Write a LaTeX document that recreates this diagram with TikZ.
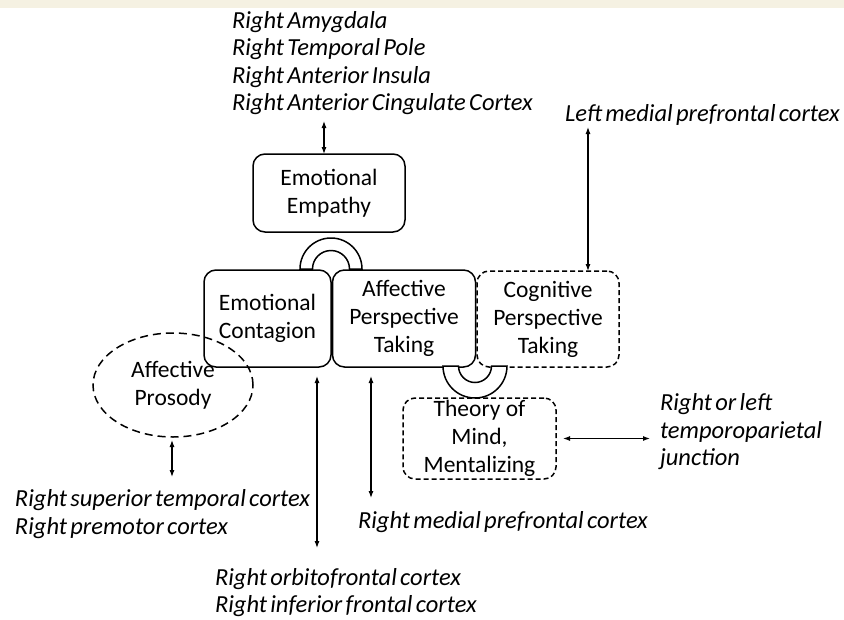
\documentclass[tikz,border=0pt]{standalone}
\usepackage{fontspec}
\setmainfont{Carlito}[ItalicFeatures={WordSpace=0.6}]
\usetikzlibrary{arrows.meta,shapes.geometric}
\definecolor{bandtan}{RGB}{245,241,226}

\begin{document}
\begin{tikzpicture}[x=1pt,y=-1pt,
  every node/.style={inner sep=0pt, outer sep=0pt},
  box/.style={draw, line width=1.5pt, rounded corners=12pt, align=center, font=\fontsize{23.5}{28}\selectfont},
  dbox/.style={box, dash pattern=on 5pt off 3pt},
  area/.style={align=left, anchor=west, font=\itshape\fontsize{24.5}{27.5}\selectfont},
  link/.style={{Latex[length=7pt,width=5pt]}-{Latex[length=7pt,width=5pt]}, line width=1.1pt},
  ring/.style={draw, fill=white, line width=1.5pt}]
\useasboundingbox (0,0) rectangle (844,619);
\fill[bandtan] (0,0) rectangle (844,8);

\node[box, minimum width=152pt, minimum height=78pt] (empathy) at (329,193) {Emotional\\Empathy};
\node[box, minimum width=127pt, minimum height=97pt] (contagion) at (267.5,318.5) {Emotional\\Contagion};
\node[box, minimum width=143pt, minimum height=97pt] (affective) at (404,318.5) {Affective\\Perspective\\Taking};
\node[dbox, minimum width=142pt, minimum height=96pt] (cognitive) at (548,319) {Cognitive\\Perspective\\Taking};
\node[dbox, minimum width=153pt, minimum height=81pt] (tom) at (479.5,438.5) {Theory of\\Mind,\\Mentalizing};
\node[box, ellipse, rounded corners=0pt, dash pattern=on 8pt off 5pt, minimum width=160pt, minimum height=104pt] (prosody) at (173,385) {Affective\\Prosody};

\draw[ring] (300,269) arc[start angle=180, end angle=0, radius=31pt] -- ++(-12.5,0) arc[start angle=0, end angle=180, radius=18.5pt] -- cycle;
\draw[ring] (443,366) arc[start angle=180, end angle=360, radius=32pt] -- ++(-15.5,0) arc[start angle=0, end angle=-180, radius=16.5pt] -- cycle;

\node[area] (amyg) at (232,63) {Right Amygdala\\Right Temporal Pole\\Right Anterior Insula\\Right Anterior Cingulate Cortex};
\node[area] (lmpfc) at (565,115) {Left medial prefrontal cortex};
\node[area] (tpj) at (660,432) {Right or left\\temporoparietal\\junction};
\node[area] (stc) at (15,514) {Right superior temporal cortex\\Right premotor cortex};
\node[area] (mpfc) at (358,522) {Right medial prefrontal cortex};
\node[area] (ofc) at (215,592.5) {Right orbitofrontal cortex\\Right inferior frontal cortex};

\coordinate (eeEnd) at (324,121);
\coordinate (lmpfcEnd) at (588,127);
\coordinate (tpjEnd) at (650,438.5);
\coordinate (stcEnd) at (172,477);
\coordinate (ofcEnd) at (317,548);
\coordinate (mpfcEnd) at (371,498);

\draw[link] (eeEnd) -- (empathy.north -| eeEnd);
\draw[link] (lmpfcEnd) -- (cognitive.north -| lmpfcEnd);
\draw[link, shorten <=7pt] (tom.east) -- (tpjEnd);
\draw[link, shorten <=3pt] (prosody.south -| stcEnd) -- (stcEnd);
\draw[link, shorten <=9pt] (contagion.south -| ofcEnd) -- (ofcEnd);
\draw[link, shorten <=9pt] (affective.south -| mpfcEnd) -- (mpfcEnd);
\end{tikzpicture}
\end{document}
